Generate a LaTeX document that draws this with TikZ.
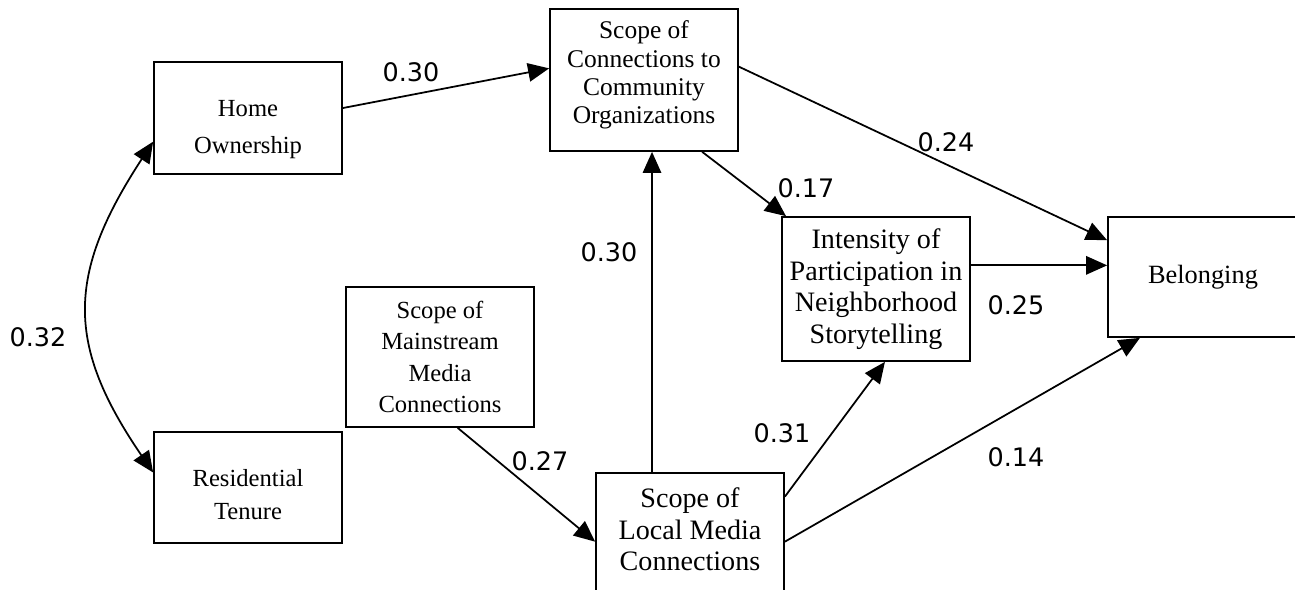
\documentclass[tikz,border=0pt]{standalone}
\usepackage{fontspec}
\setmainfont{Liberation Serif}
\newfontfamily\coeffont{DejaVu Sans}
\usetikzlibrary{arrows.meta}

\begin{document}
\begin{tikzpicture}[x=0.02cm,y=-0.02cm,
	var/.style={draw,line width=1pt,align=center,minimum width=3.76cm,inner sep=2pt},
	effect/.style={line width=1pt,-{Triangle[length=12pt,width=10.5pt]}},
	corr/.style={line width=1pt,{Triangle[length=12pt,width=10.5pt]}-{Triangle[length=12pt,width=10.5pt]}},
	coef/.style={font=\coeffont\fontsize{14.5}{16}\selectfont}]
	\useasboundingbox (0,0) rectangle (1295,589);

	% variables
	\node[var,minimum height=2.24cm,font=\fontsize{14}{21}\selectfont] (home) at (248,118) {\rule{0pt}{22pt}Home\\Ownership};
	\node[var,minimum height=2.22cm,font=\fontsize{14}{19}\selectfont] (tenure) at (248,487.5) {\rule{0pt}{17.5pt}Residential\\Tenure};
	\node[var,minimum height=2.8cm,font=\fontsize{14}{18}\selectfont] (mainstream) at (440,357) {Scope of\\Mainstream\\Media\\Connections};
	\node[var,minimum height=2.84cm,font=\fontsize{14.5}{16}\selectfont] (orgs) at (644,80) {Scope of\\Connections to\\Community\\Organizations\rule[-9pt]{0pt}{9pt}};
	\node[var,minimum height=2.88cm,font=\fontsize{16}{18}\selectfont] (story) at (876,289) {Intensity of\\Participation in\\Neighborhood\\Storytelling};
	\node[var,minimum height=2.88cm,font=\fontsize{16}{18}\selectfont] (local) at (690,545) {Scope of\\Local Media\\Connections\\~};
	\node[var,minimum width=3.8cm,minimum height=2.4cm,font=\fontsize{15}{17}\selectfont] (belong) at (1203,277) {Belonging};

	% paths
	\draw[corr] (home.194) .. controls (66,275) and (66,345) .. (tenure.171);
	\draw[effect] (home.6) -- (orgs.173);
	\draw[effect] (orgs.8) -- (belong.159);
	\draw[effect] (orgs.309) -- (story.141);
	\draw[effect] (story.14) -- (story.14 -| belong.west);
	\coordinate (up) at ([xshift=-0.76cm]local.north);
	\draw[effect] (up) -- (up |- orgs.south);
	\draw[effect] (mainstream.284) -- (local.178);
	\draw[effect] (local.27) -- (story.277);
	\draw[effect] (local.2) -- (belong.224);

	% coefficients
	\node[coef] (c-orgs) at (411,72) {0.30};
	\node[coef] (c-belong) at (946,142) {0.24};
	\node[coef] (c-story) at (806,188) {0.17};
	\node[coef] (c-local) at (609,252) {0.30};
	\node[coef] (c-direct) at (1016,305) {0.25};
	\node[coef] (c-media) at (782,433) {0.31};
	\node[coef] (c-local2) at (1016,457) {0.14};
	\node[coef] (c-main) at (540,461) {0.27};
	\node[coef] (c-corr) at (38,337) {0.32};
\end{tikzpicture}
\end{document}
